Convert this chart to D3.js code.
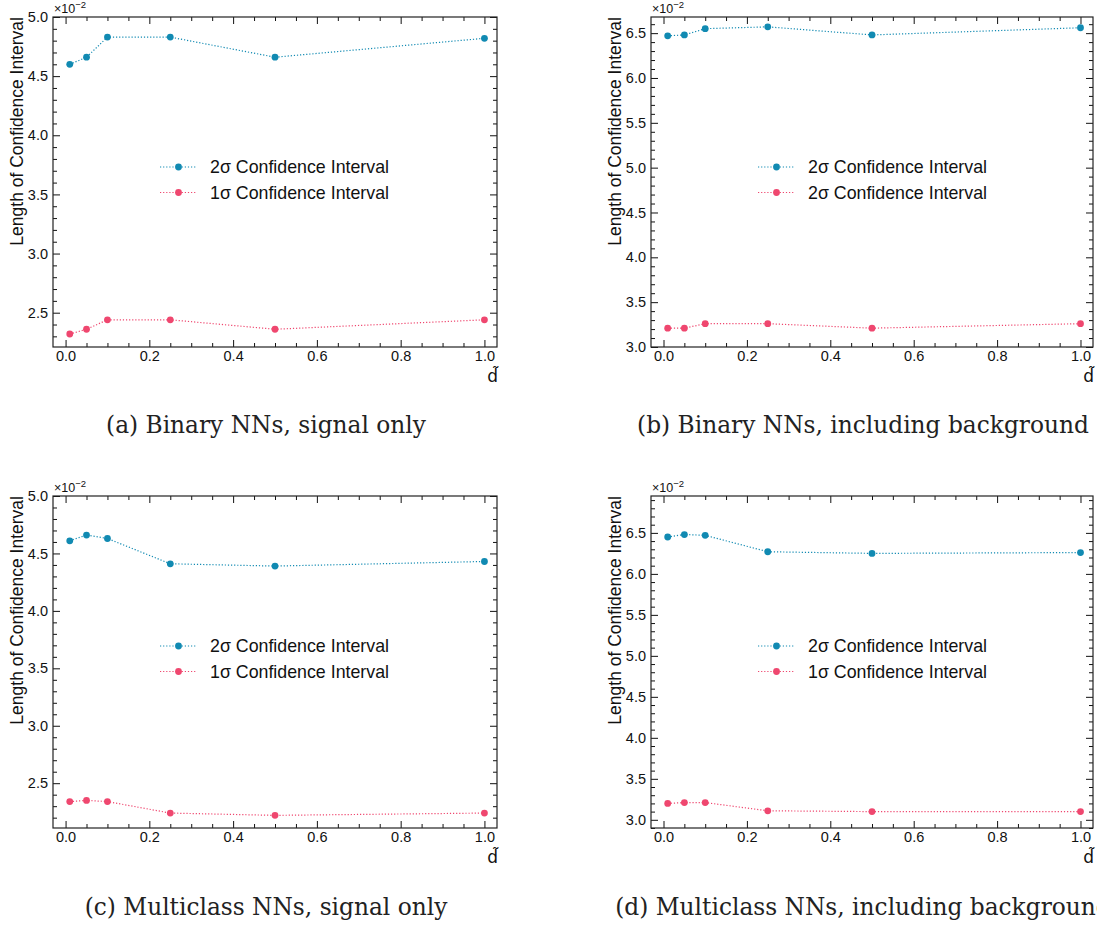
<!DOCTYPE html>
<html>
<head>
<meta charset="utf-8">
<script src="https://cdn.jsdelivr.net/npm/d3@7"></script>
<style>
  body { margin: 0; background: #fff; }
  text { font-family: "Liberation Sans", Arial, sans-serif; }
</style>
</head>
<body>
<div id="chart"></div>
<script>
// d-tilde values on the x axis
const dTilde = [0.01, 0.05, 0.1, 0.25, 0.5, 1.0];

// length of confidence interval (x 10^-2)
const binarySignal2 = [4.60, 4.66, 4.83, 4.83, 4.66, 4.82];
const binarySignal1 = [2.32, 2.36, 2.44, 2.44, 2.36, 2.44];
const binaryBkg2 = [6.47, 6.48, 6.55, 6.57, 6.48, 6.56];
const binaryBkg1 = [3.21, 3.21, 3.26, 3.26, 3.21, 3.26];
const multiSignal2 = [4.61, 4.66, 4.63, 4.41, 4.39, 4.43];
const multiSignal1 = [2.34, 2.35, 2.34, 2.24, 2.22, 2.24];
const multiBkg2 = [6.45, 6.48, 6.47, 6.27, 6.25, 6.26];
const multiBkg1 = [3.20, 3.21, 3.21, 3.11, 3.10, 3.10];

const xTicks = [0, 0.2, 0.4, 0.6, 0.8, 1.0];
const yTicksSignal = [2.5, 3.0, 3.5, 4.0, 4.5, 5.0];
const yTicksBkg = [3.0, 3.5, 4.0, 4.5, 5.0, 5.5, 6.0, 6.5];

const captions = [
  "(a) Binary NNs, signal only",
  "(b) Binary NNs, including background",
  "(c) Multiclass NNs, signal only",
  "(d) Multiclass NNs, including background"
];
// panel (b) really labels both series "2σ" in the original
const legendLabels = [
  ["2σ Confidence Interval", "1σ Confidence Interval"],
  ["2σ Confidence Interval", "2σ Confidence Interval"],
  ["2σ Confidence Interval", "1σ Confidence Interval"],
  ["2σ Confidence Interval", "1σ Confidence Interval"]
];

const colors = ["#118AB2", "#EF476F"];

const width = 1097, height = 927;

const svg = d3.select('#chart').append('svg')
  .attr('width', width)
  .attr('height', height);

svg.append('rect').attr('width', width).attr('height', height).attr('fill', '#fff');

// layout of the four panels
const panels = [
  {left: 53, right: 497, top: 17, bottom: 347, yDomain: [2.21, 5.0], yTicks: yTicksSignal,
   series: [binarySignal2, binarySignal1], captionX: 266, captionY: 433},
  {left: 651, right: 1093, top: 17, bottom: 347, yDomain: [3.0, 6.68], yTicks: yTicksBkg,
   series: [binaryBkg2, binaryBkg1], captionX: 863, captionY: 433},
  {left: 53, right: 497, top: 496, bottom: 828, yDomain: [2.11, 5.0], yTicks: yTicksSignal,
   series: [multiSignal2, multiSignal1], captionX: 266, captionY: 915},
  {left: 651, right: 1093, top: 496, bottom: 828, yDomain: [2.90, 6.95], yTicks: yTicksBkg,
   series: [multiBkg2, multiBkg1], captionX: 863, captionY: 915}
];

panels.forEach((p, i) => drawPanel(p, i));

function drawPanel(p, i) {
  const g = svg.append('g');

  const xScale = d3.scaleLinear().domain([-0.03, 1.03]).range([p.left, p.right]);
  const yScale = d3.scaleLinear().domain(p.yDomain).range([p.bottom, p.top]);

  const xMinor = d3.range(0, 1.0001, 0.05).filter(v => !xTicks.some(t => Math.abs(t - v) < 1e-6));
  const yMinor = d3.range(Math.ceil(p.yDomain[0] * 10), Math.floor(p.yDomain[1] * 10) + 1)
    .map(v => v / 10)
    .filter(v => !p.yTicks.some(t => Math.abs(t - v) < 1e-6));

  // axes with inward ticks on all four sides
  const addAxis = (axis, tx, ty) => {
    const a = g.append('g')
      .attr('transform', `translate(${tx}, ${ty})`)
      .call(axis);
    a.select('.domain').remove();
    a.selectAll('line').attr('stroke', '#111').attr('stroke-width', 1);
    a.selectAll('text')
      .attr('fill', '#111')
      .style('font-size', '14.5px')
      .style('font-family', '"Liberation Sans", Arial, sans-serif');
    return a;
  };

  addAxis(d3.axisBottom(xScale).tickValues(xTicks).tickSizeInner(-7).tickSizeOuter(0)
    .tickPadding(4).tickFormat(d3.format('.1f')), 0, p.bottom);
  addAxis(d3.axisBottom(xScale).tickValues(xMinor).tickSizeInner(-4).tickSizeOuter(0)
    .tickFormat(''), 0, p.bottom);
  addAxis(d3.axisTop(xScale).tickValues(xTicks).tickSizeInner(-7).tickSizeOuter(0)
    .tickFormat(''), 0, p.top);
  addAxis(d3.axisTop(xScale).tickValues(xMinor).tickSizeInner(-4).tickSizeOuter(0)
    .tickFormat(''), 0, p.top);

  addAxis(d3.axisLeft(yScale).tickValues(p.yTicks).tickSizeInner(-7).tickSizeOuter(0)
    .tickPadding(5).tickFormat(d3.format('.1f')), p.left, 0);
  addAxis(d3.axisLeft(yScale).tickValues(yMinor).tickSizeInner(-4).tickSizeOuter(0)
    .tickFormat(''), p.left, 0);
  addAxis(d3.axisRight(yScale).tickValues(p.yTicks).tickSizeInner(-7).tickSizeOuter(0)
    .tickFormat(''), p.right, 0);
  addAxis(d3.axisRight(yScale).tickValues(yMinor).tickSizeInner(-4).tickSizeOuter(0)
    .tickFormat(''), p.right, 0);

  // frame
  g.append('rect')
    .attr('x', p.left).attr('y', p.top)
    .attr('width', p.right - p.left).attr('height', p.bottom - p.top)
    .attr('fill', 'none').attr('stroke', '#222').attr('stroke-width', 1.2);

  // offset text
  const off = g.append('text')
    .attr('x', p.left + 1).attr('y', p.top - 4)
    .attr('fill', '#111')
    .style('font-size', '12.5px');
  off.append('tspan').text('×10');
  off.append('tspan').attr('dy', -5).style('font-size', '9.5px').text('−2');

  // axis labels
  g.append('text')
    .attr('transform', `translate(${p.left - 30}, ${p.top}) rotate(-90)`)
    .attr('text-anchor', 'end')
    .attr('fill', '#111')
    .style('font-size', '17.5px')
    .text('Length of Confidence Interval');

  g.append('text')
    .attr('x', p.right + 1).attr('y', p.bottom + 35)
    .attr('text-anchor', 'end')
    .attr('fill', '#111')
    .style('font-family', '"DejaVu Sans", sans-serif')
    .style('font-size', '17px')
    .text('d\u0303');

  // series
  const line = d3.line()
    .x(d => xScale(d[0]))
    .y(d => yScale(d[1]));

  p.series.forEach((vals, k) => {
    const pts = dTilde.map((d, j) => [d, vals[j]]);
    g.append('path')
      .datum(pts)
      .attr('d', line)
      .attr('fill', 'none')
      .attr('stroke', colors[k])
      .attr('stroke-width', 1.2)
      .attr('stroke-dasharray', '1.2,1.9');
    g.selectAll(null)
      .data(pts)
      .enter()
      .append('circle')
      .attr('cx', d => xScale(d[0]))
      .attr('cy', d => yScale(d[1]))
      .attr('r', 3.4)
      .attr('fill', colors[k]);
  });

  // legend
  const lx = p.left + 107, ly = p.top + 150;
  legendLabels[i].forEach((lab, k) => {
    const yy = ly + k * 25.5;
    g.append('line')
      .attr('x1', lx).attr('x2', lx + 37).attr('y1', yy).attr('y2', yy)
      .attr('stroke', colors[k]).attr('stroke-width', 1.2)
      .attr('stroke-dasharray', '1.2,1.9');
    g.append('circle').attr('cx', lx + 18.5).attr('cy', yy).attr('r', 3.4).attr('fill', colors[k]);
    g.append('text')
      .attr('x', lx + 50).attr('y', yy + 6)
      .attr('fill', '#111')
      .style('font-size', '17.8px')
      .text(lab);
  });

  // caption
  g.append('text')
    .attr('x', p.captionX).attr('y', p.captionY)
    .attr('text-anchor', 'middle')
    .attr('fill', '#222')
    .style('font-family', '"DejaVu Serif", serif')
    .style('font-size', '23.3px')
    .text(captions[i]);
}
</script>
</body>
</html>
